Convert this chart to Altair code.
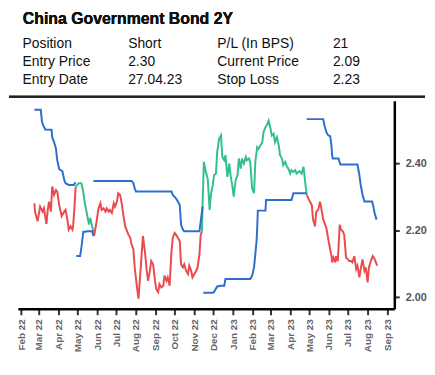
import altair as alt
import pandas as pd

# ---------------- header table ----------------
title_text = "China Government Bond 2Y"
labels_left = ["Position", "Entry Price", "Entry Date"]
values_left = ["Short", "2.30", "27.04.23"]
labels_right = ["P/L (In BPS)", "Current Price", "Stop Loss"]
values_right = ["21", "2.09", "2.23"]

# ---------------- price series ----------------
price_dates = [
    "2022-02-22", "2022-02-23", "2022-02-27", "2022-03-03", "2022-03-07", "2022-03-09", "2022-03-13",
    "2022-03-15", "2022-03-17", "2022-03-20", "2022-03-22", "2022-03-25", "2022-03-28", "2022-03-30",
    "2022-04-02", "2022-04-06", "2022-04-10", "2022-04-12", "2022-04-15", "2022-04-17", "2022-04-20",
    "2022-04-23", "2022-04-24", "2022-04-26", "2022-04-28",
    "2022-05-03", "2022-05-07", "2022-05-10", "2022-05-12", "2022-05-14", "2022-05-17", "2022-05-19",
    "2022-05-21", "2022-05-24", "2022-05-26", "2022-05-27",
    "2022-05-31", "2022-06-03", "2022-06-06", "2022-06-08", "2022-06-11", "2022-06-14", "2022-06-16",
    "2022-06-19", "2022-06-21", "2022-06-24", "2022-06-27", "2022-06-29", "2022-07-02", "2022-07-04",
    "2022-07-07", "2022-07-10", "2022-07-12", "2022-07-15", "2022-07-17", "2022-07-20", "2022-07-23",
    "2022-07-25", "2022-07-28", "2022-07-30", "2022-08-02", "2022-08-05", "2022-08-07", "2022-08-10",
    "2022-08-12", "2022-08-15", "2022-08-18", "2022-08-20", "2022-08-23", "2022-08-25", "2022-08-28",
    "2022-08-31", "2022-09-02", "2022-09-05", "2022-09-07", "2022-09-10", "2022-09-13", "2022-09-15",
    "2022-09-18", "2022-09-20", "2022-09-23", "2022-09-26", "2022-09-28", "2022-10-01", "2022-10-03",
    "2022-10-06", "2022-10-09", "2022-10-11", "2022-10-14", "2022-10-16", "2022-10-19", "2022-10-22",
    "2022-10-24", "2022-10-27", "2022-10-29", "2022-11-01", "2022-11-04", "2022-11-06", "2022-11-09",
    "2022-11-11", "2022-11-13",
    "2022-11-14", "2022-11-16", "2022-11-19", "2022-11-22", "2022-11-23", "2022-11-25", "2022-11-27",
    "2022-11-30", "2022-12-02", "2022-12-05", "2022-12-07", "2022-12-10", "2022-12-13", "2022-12-15",
    "2022-12-18", "2022-12-20", "2022-12-23", "2022-12-26", "2022-12-28", "2022-12-31", "2023-01-02",
    "2023-01-05", "2023-01-08", "2023-01-10", "2023-01-13", "2023-01-15", "2023-01-18", "2023-01-21",
    "2023-01-23", "2023-01-26", "2023-01-28", "2023-01-31", "2023-02-03", "2023-02-05", "2023-02-08",
    "2023-02-10", "2023-02-13", "2023-02-16", "2023-02-18", "2023-02-21", "2023-02-23", "2023-02-26",
    "2023-03-01", "2023-03-03", "2023-03-06", "2023-03-08", "2023-03-11", "2023-03-14", "2023-03-16",
    "2023-03-19", "2023-03-21", "2023-03-24", "2023-03-27", "2023-03-29", "2023-04-01", "2023-04-03",
    "2023-04-06", "2023-04-09", "2023-04-11", "2023-04-14", "2023-04-16", "2023-04-19", "2023-04-22",
    "2023-04-24", "2023-04-26", "2023-04-27",
    "2023-05-02", "2023-05-05", "2023-05-07", "2023-05-10", "2023-05-12", "2023-05-15", "2023-05-18",
    "2023-05-20", "2023-05-23", "2023-05-25", "2023-05-28", "2023-05-31", "2023-06-02", "2023-06-05",
    "2023-06-06", "2023-06-08", "2023-06-11", "2023-06-12", "2023-06-15", "2023-06-18", "2023-06-20",
    "2023-06-23", "2023-06-25", "2023-06-28", "2023-07-01", "2023-07-03", "2023-07-06", "2023-07-08",
    "2023-07-11", "2023-07-14", "2023-07-16", "2023-07-19", "2023-07-21", "2023-07-24", "2023-07-27",
    "2023-07-29", "2023-08-01", "2023-08-03", "2023-08-06", "2023-08-09", "2023-08-11", "2023-08-14",
    "2023-08-16",
]
price_values = [
    2.281, 2.255, 2.227, 2.271, 2.256, 2.266, 2.219,
    2.261, 2.286, 2.256, 2.331, 2.306, 2.321, 2.316,
    2.276, 2.242, 2.256, 2.261, 2.232, 2.202, 2.212,
    2.202, 2.212, 2.266, 2.331,
    2.341, 2.341, 2.316, 2.286, 2.266, 2.237, 2.217,
    2.237, 2.212, 2.197, 2.183,
    2.227, 2.266, 2.281, 2.261, 2.266, 2.256, 2.266,
    2.256, 2.261, 2.252, 2.281, 2.271, 2.286, 2.311,
    2.306, 2.276, 2.247, 2.212, 2.202, 2.187, 2.178,
    2.158, 2.143, 2.089, 2.039, 1.995, 2.049, 2.128,
    2.183, 2.138, 2.079, 2.049, 2.079, 2.108, 2.098,
    2.049, 2.024, 2.015, 2.039, 2.029, 2.034, 2.064,
    2.049, 2.059, 2.034, 2.138, 2.178, 2.192, 2.187,
    2.178, 2.168, 2.098, 2.089, 2.098, 2.079, 2.069,
    2.094, 2.079, 2.059, 2.069, 2.079, 2.089, 2.128,
    2.187, 2.197,
    2.280, 2.405, 2.375, 2.355, 2.326, 2.261, 2.306,
    2.336, 2.365, 2.370, 2.435, 2.474, 2.484, 2.420,
    2.410, 2.425, 2.360, 2.400, 2.365, 2.331, 2.301,
    2.351, 2.365, 2.415, 2.385, 2.415, 2.400, 2.420,
    2.410, 2.415, 2.405, 2.326, 2.311, 2.405, 2.449,
    2.444, 2.454, 2.464, 2.494, 2.509, 2.514, 2.528,
    2.504, 2.484, 2.489, 2.464, 2.479, 2.454, 2.425,
    2.415, 2.395, 2.405, 2.390, 2.385, 2.370, 2.380,
    2.375, 2.380, 2.370, 2.375, 2.377, 2.370, 2.390,
    2.355, 2.321, 2.306,
    2.286, 2.276, 2.232, 2.212, 2.256, 2.261, 2.286,
    2.266, 2.232, 2.222, 2.207, 2.173, 2.153, 2.123,
    2.104, 2.118, 2.104, 2.123, 2.108, 2.217, 2.202,
    2.197, 2.187, 2.118, 2.113, 2.108, 2.108, 2.104,
    2.123, 2.084, 2.094, 2.059, 2.084, 2.113, 2.079,
    2.089, 2.044, 2.089, 2.108, 2.123, 2.118, 2.104,
    2.094,
]
# dates at which the trend flips (red = price below stop, green = above)
switch_dates = ["2022-04-28", "2022-05-27", "2022-11-13", "2023-04-27"]
trend_names = ["Down", "Up"]

# ---------------- trailing stop ----------------
stop_dates = [
    "2022-02-22", "2022-03-04", "2022-03-06", "2022-03-08", "2022-03-11", "2022-03-21", "2022-03-22",
    "2022-03-25", "2022-03-28", "2022-03-30", "2022-04-02", "2022-04-07", "2022-04-10", "2022-04-12",
    "2022-04-17", "2022-04-25", "2022-04-28",
    "2022-04-29", "2022-05-05", "2022-05-07", "2022-05-10", "2022-05-17", "2022-05-24", "2022-05-26",
    "2022-05-26", "2022-07-25", "2022-07-28", "2022-07-30", "2022-08-01", "2022-09-26", "2022-09-28",
    "2022-10-03", "2022-10-06", "2022-10-09", "2022-10-11", "2022-10-14", "2022-10-16", "2022-11-09",
    "2022-11-11", "2022-11-14",
    "2022-11-15", "2022-11-30", "2022-12-02", "2022-12-07", "2022-12-13", "2022-12-18", "2022-12-20",
    "2023-01-28", "2023-01-31", "2023-02-03", "2023-02-05", "2023-02-07", "2023-02-08", "2023-02-09",
    "2023-02-21", "2023-02-22", "2023-04-03", "2023-04-06", "2023-04-27",
    "2023-04-27", "2023-05-23", "2023-05-25", "2023-05-28", "2023-05-31", "2023-06-03", "2023-06-05",
    "2023-06-06", "2023-06-07", "2023-06-16", "2023-06-19", "2023-07-16", "2023-07-19", "2023-07-21",
    "2023-07-24", "2023-07-27", "2023-08-08", "2023-08-10", "2023-08-12", "2023-08-15",
]
stop_values = [
    2.561, 2.561, 2.524, 2.514, 2.502, 2.501, 2.479,
    2.464, 2.444, 2.410, 2.383, 2.377, 2.351, 2.341,
    2.336, 2.336, 2.344,
    2.123, 2.123, 2.148, 2.195, 2.197, 2.197, 2.183,
    2.348, 2.348, 2.341, 2.326, 2.316, 2.316, 2.306,
    2.296, 2.286, 2.276, 2.217, 2.202, 2.197, 2.197,
    2.227, 2.271,
    2.013, 2.013, 2.015, 2.032, 2.034, 2.034, 2.054,
    2.054, 2.064, 2.089, 2.128, 2.168, 2.207, 2.259,
    2.259, 2.291, 2.291, 2.311, 2.311,
    2.533, 2.533, 2.514, 2.494, 2.484, 2.482, 2.454,
    2.425, 2.415, 2.415, 2.397, 2.397, 2.365, 2.336,
    2.306, 2.286, 2.286, 2.271, 2.252, 2.232,
]
stop_segment = [0] * 17 + [1] * 7 + [2] * 16 + [3] * 19 + [4] * 20

# ---------------- build tables ----------------
bounds = [price_dates[0]] + switch_dates + [price_dates[-1]]
rows = []
for k in range(len(bounds) - 1):
    lo, hi = bounds[k], bounds[k + 1]
    for d, v in zip(price_dates, price_values):
        if lo <= d <= hi:
            rows.append({"date": d, "value": v, "seg": k, "trend": trend_names[k % 2]})
price_df = pd.DataFrame(rows)
stop_df = pd.DataFrame({"date": stop_dates, "value": stop_values, "seg": stop_segment})

FONT = "Liberation Sans"
RED = "#E94B4F"
GREEN = "#35BF8C"
BLUE = "#2D6FCE"

x_enc = alt.X(
    "date:T",
    scale=alt.Scale(domain=[alt.DateTime(year=2022, month=1, date=27),
                            alt.DateTime(year=2023, month=9, date=12)]),
    axis=alt.Axis(tickCount=alt.TimeIntervalStep(interval="month", step=1),
                  format="%b %y", labelAngle=-90, title=None,
                  grid=False, tickSize=6, tickWidth=2, tickColor="#333",
                  domainColor="#000", domainWidth=2.5, labelFontSize=10,
                  labelFont=FONT, labelFontWeight="bold", labelColor="#666",
                  labelPadding=4, labelOverlap=False, labelBound=False, labelFlush=False),
)
y_scale = alt.Scale(domain=[1.965, 2.588], nice=False, zero=False)

price_line = alt.Chart(price_df).mark_line(strokeWidth=2).encode(
    x=x_enc,
    y=alt.Y("value:Q", scale=y_scale,
            axis=alt.Axis(orient="right", values=[2.0, 2.2, 2.4], format=".2f", title=None,
                          grid=False, tickSize=5, tickWidth=2, tickColor="#333",
                          domainColor="#000", domainWidth=2.5, labelFontSize=11,
                          labelFont=FONT, labelFontWeight="bold", labelColor="#555",
                          labelPadding=6)),
    color=alt.Color("trend:N", scale=alt.Scale(domain=trend_names, range=[RED, GREEN]), legend=None),
    detail="seg:N",
    order="date:T",
)

stop_line = alt.Chart(stop_df).mark_line(strokeWidth=2, color=BLUE).encode(
    x="date:T",
    y="value:Q",
    detail="seg:N",
    order="date:T",
)

main = alt.layer(price_line, stop_line).properties(width=380, height=210)

# ---------------- header panel ----------------
hdr = pd.DataFrame({
    "row": [0, 1, 2],
    "l1": labels_left, "v1": values_left, "l2": labels_right, "v2": values_right,
})
row_y = alt.Y("row:Q", scale=alt.Scale(domain=[0, 2], range=[38.7, 75.3]), axis=None)
base_hdr = alt.Chart(hdr)


def col(field, xpos):
    return base_hdr.mark_text(align="left", baseline="alphabetic", fontSize=14,
                              font=FONT, color="#111").encode(
        x=alt.value(xpos), y=row_y, text=f"{field}:N")


title_mark = base_hdr.mark_text(text=title_text, align="left", baseline="alphabetic",
                                fontSize=16, fontWeight="bold", font=FONT,
                                color="#111").encode(x=alt.value(5), y=alt.value(14.7))
sep_rule = base_hdr.mark_rule(color="#222", strokeWidth=2).encode(
    x=alt.value(-9), x2=alt.value(411), y=alt.value(88))

header = alt.layer(title_mark, col("l1", 4.7), col("v1", 111.3), col("l2", 201.3),
                   col("v2", 318), sep_rule).properties(width=380, height=89)

chart = alt.vconcat(header, main, spacing=3).configure(
    padding=0
).configure_view(stroke=None)

chart.save("out.html", embed_options={"renderer": "svg", "actions": False})
